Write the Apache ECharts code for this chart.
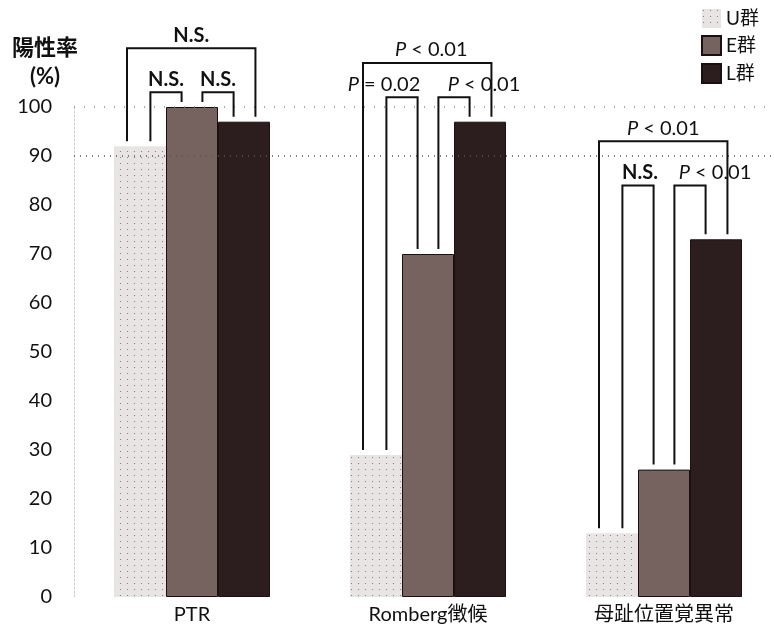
<!DOCTYPE html>
<html>
<head>
<meta charset="utf-8">
<script src="https://cdn.jsdelivr.net/npm/echarts@6/dist/echarts.min.js"></script>
<style>
  html, body { margin: 0; padding: 0; background: #fff; }
  #chart { width: 774px; height: 633px; }
</style>
</head>
<body>
<div id="chart"></div>
<script>
// data
var categories = ['PTR', 'Romberg徴候', '母趾位置覚異常'];
var groupNames = ['U群', 'E群', 'L群'];
var uValues = [92, 29, 13];
var eValues = [100, 70, 26];
var lValues = [97, 97, 73];
var yTicks = [0, 100, 10]; // min, max, interval

// significance brackets: [category, from group, to group, bracket top value]
var brackets = [
  [0, 0, 2, 112], [0, 0, 1, 103], [0, 1, 2, 103],
  [1, 0, 2, 109], [1, 0, 1, 102], [1, 1, 2, 102],
  [2, 0, 2, 93], [2, 0, 1, 84], [2, 1, 2, 84]
];
var bracketLabels = ['N.S.', 'N.S.', 'N.S.', 'P < 0.01', 'P = 0.02', 'P < 0.01', 'P < 0.01', 'N.S.', 'P < 0.01'];
// horizontal text nudge (px), label does not always fit over the bracket
var labelShift = [0, 0, 0, 4, -18, 30, 0, 2, 25];

var allValues = [uValues, eValues, lValues];
var BAR_W = 52;
var FONT = 'Lato, "Noto Sans CJK JP", sans-serif';
var colors = ['#e9e4e4', '#76625f', '#2c1e1e'];

function labelText(s) {
  if (s.charAt(0) == 'P') {
    return '{i|P}' + s.substring(1);
  }
  return '{b|' + s + '}';
}

function renderBracket(params, api) {
  var i = params.dataIndex;
  var cat = api.value(0), from = api.value(1), to = api.value(2), top = api.value(3);
  var cx = api.coord([cat, 0])[0];
  var span = to - from;
  var xa = cx + (from - 1) * BAR_W + (span == 2 ? -0.25 : 0.2) * BAR_W;
  var xb = cx + (to - 1) * BAR_W + (span == 2 ? 0.22 : -0.2) * BAR_W;
  var yTop = api.coord([cat, top])[1];
  var ya = api.coord([cat, allValues[from][cat]])[1] - 5;
  var yb = api.coord([cat, allValues[to][cat]])[1] - 5;
  return {
    type: 'group',
    children: [{
      type: 'polyline',
      shape: { points: [[xa, ya], [xa, yTop], [xb, yTop], [xb, yb]] },
      style: { stroke: '#111', lineWidth: 2, fill: null }
    }, {
      type: 'text',
      style: {
        text: labelText(bracketLabels[i]),
        x: (xa + xb) / 2 + labelShift[i],
        y: yTop - 3,
        align: 'center',
        verticalAlign: 'bottom',
        fill: '#111',
        font: '20px ' + FONT,
        rich: {
          i: { fontStyle: 'italic', fontSize: 20, fontFamily: FONT, fill: '#111' },
          b: { fontWeight: 'bold', fontSize: 20, fontFamily: FONT, fill: '#111' }
        }
      }
    }]
  };
}

var chart = echarts.init(document.getElementById('chart'));

var barSeries = [];
for (var s = 0; s < 3; s++) {
  var item = {
    name: groupNames[s],
    type: 'bar',
    data: allValues[s],
    barWidth: BAR_W,
    barGap: '0%',
    itemStyle: {
      color: colors[s],
      borderColor: s == 0 ? 'rgba(0,0,0,0)' : '#1a1010',
      borderWidth: s == 0 ? 0 : 1
    },
    z: 2
  };
  if (s == 0) {
    item.itemStyle.decal = {
      symbol: 'circle',
      symbolSize: 0.4,
      color: 'rgba(60,30,30,0.6)',
      dashArrayX: [[3, 4]],
      dashArrayY: [3, 3],
      rotation: 0
    };
    item.markLine = {
      silent: true,
      symbol: 'none',
      label: { show: false },
      lineStyle: { type: [1, 5], color: '#555', width: 1.5 },
      data: [{ yAxis: 90 }, { yAxis: 100, lineStyle: { type: [1, 9], color: '#888', width: 1.5 } }]
    };
  }
  barSeries.push(item);
}

barSeries.push({
  type: 'custom',
  renderItem: renderBracket,
  data: brackets,
  encode: { x: 0, y: 3 },
  clip: false,
  silent: true,
  z: 5
});

var option = {
  backgroundColor: '#fff',
  animation: false,
  textStyle: { fontFamily: FONT },
  title: {
    text: '陽性率\n(%)',
    left: 40,
    top: 28,
    textAlign: 'center',
    textStyle: { fontSize: 22, fontWeight: 'bold', color: '#111', lineHeight: 29, fontFamily: FONT }
  },
  legend: {
    orient: 'vertical',
    left: 696,
    top: 4,
    itemWidth: 19,
    itemHeight: 19,
    itemGap: 7,
    icon: 'rect',
    textStyle: { fontSize: 19, color: '#111', fontFamily: FONT },
    data: groupNames
  },
  grid: { left: 74, top: 107, width: 708, height: 490, outerBoundsMode: 'none' },
  xAxis: {
    type: 'category',
    data: categories,
    axisLine: { show: false },
    axisTick: { show: false },
    axisLabel: { fontSize: 20, color: '#111', margin: 8, fontFamily: FONT }
  },
  yAxis: {
    type: 'value',
    min: yTicks[0],
    max: yTicks[1],
    interval: yTicks[2],
    axisLine: { show: true, lineStyle: { color: '#c8ccd4', type: [2, 2], width: 1 } },
    axisTick: { show: false },
    splitLine: { show: false },
    axisLabel: { fontSize: 20, color: '#111', margin: 22, fontFamily: FONT }
  },
  series: barSeries
};

chart.setOption(option);
</script>
</body>
</html>
